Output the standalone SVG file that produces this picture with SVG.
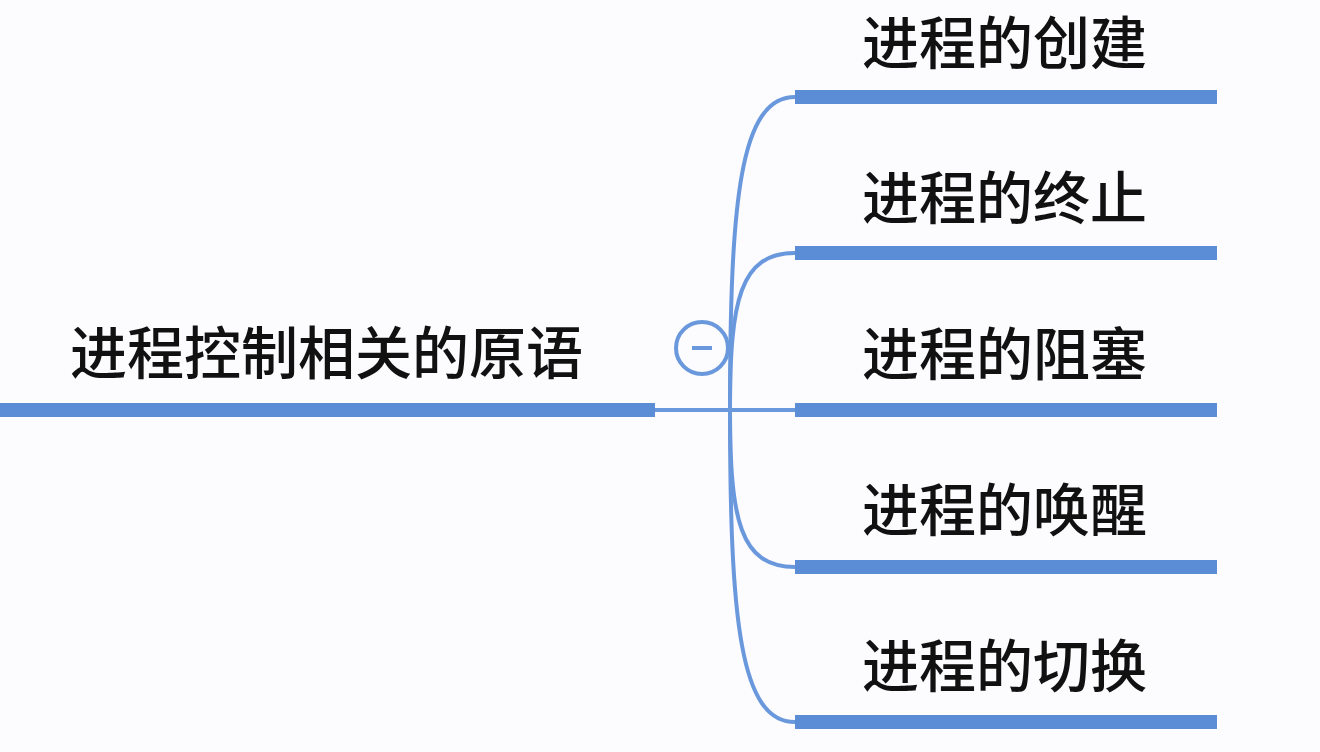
<svg xmlns="http://www.w3.org/2000/svg" width="1320" height="752" viewBox="0 0 1320 752">
<style>
text{font-family:"Noto Sans CJK SC","Noto Sans",sans-serif;font-size:57px;font-weight:500;fill:#111}
.bar{stroke:#5b8dd6;stroke-width:14;fill:none}
.c{stroke:#6a98dc;stroke-width:4;fill:none}
</style>
<rect width="1320" height="752" fill="#fcfbfe"/>
<g id="connectors">
<line class="c" x1="655" y1="410" x2="795" y2="410"/>
<path class="c" d="M730 410 C730 200 740 97 795 97"/>
<path class="c" d="M730 410 C730 300 740 253 795 253"/>
<path class="c" d="M730 410 C730 520 740 567 795 567"/>
<path class="c" d="M730 410 C730 620 740 722 795 722"/>
</g>
<g id="root">
<line class="bar" x1="0" y1="410" x2="655" y2="410"/>
<text x="70" y="374">进程控制相关的原语</text>
</g>
<g id="toggle">
<circle cx="702" cy="348" r="26" fill="#fcfbfe" stroke="#6a98dc" stroke-width="4"/>
<line x1="692" y1="348" x2="712" y2="348" stroke="#6a98dc" stroke-width="4"/>
</g>
<g id="n1"><line class="bar" x1="795" y1="97" x2="1217" y2="97"/><text x="862" y="64">进程的创建</text></g>
<g id="n2"><line class="bar" x1="795" y1="253" x2="1217" y2="253"/><text x="862" y="219">进程的终止</text></g>
<g id="n3"><line class="bar" x1="795" y1="410" x2="1217" y2="410"/><text x="862" y="375">进程的阻塞</text></g>
<g id="n4"><line class="bar" x1="795" y1="567" x2="1217" y2="567"/><text x="862" y="531">进程的唤醒</text></g>
<g id="n5"><line class="bar" x1="795" y1="722" x2="1217" y2="722"/><text x="862" y="687">进程的切换</text></g>
</svg>
